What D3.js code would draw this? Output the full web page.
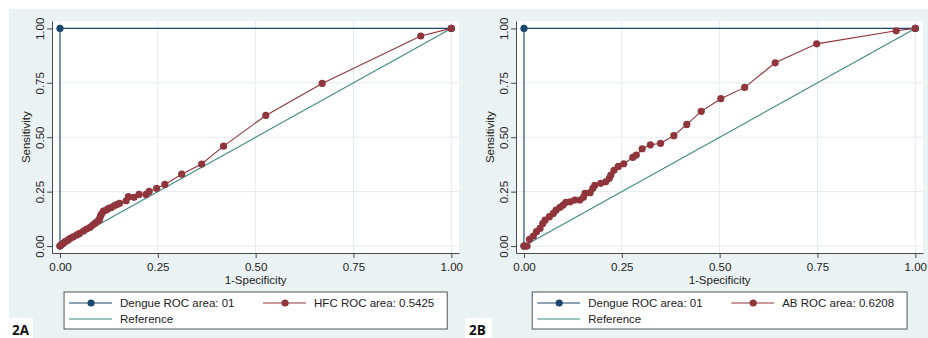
<!DOCTYPE html>
<html><head><meta charset="utf-8">
<script src="https://cdn.jsdelivr.net/npm/d3@7"></script>
<style>
html,body{margin:0;padding:0;background:#fff;}
svg{display:block;font-family:"Liberation Sans",Arial,sans-serif;}
</style></head>
<body><svg id="c" width="928" height="338"></svg>
<script>
// ---------- data ----------
const axisTicks = [0, 0.25, 0.5, 0.75, 1];
const axisTickLabels = ["0.00", "0.25", "0.50", "0.75", "1.00"];
const xTitle = "1-Specificity";
const yTitle = "Sensitivity";

const dengueFpr = [0, 0, 1];
const dengueTpr = [0, 1, 1];
const dengueLabel = "Dengue ROC area: 01";
const referenceLabel = "Reference";

const hfcFpr = [0, 0.003, 0.008, 0.013, 0.02, 0.026, 0.034, 0.043, 0.05, 0.06, 0.068, 0.077, 0.083, 0.089, 0.095, 0.1, 0.102, 0.104, 0.106, 0.111, 0.118, 0.124, 0.131, 0.138, 0.145, 0.152, 0.169, 0.175, 0.189, 0.202, 0.22, 0.228, 0.247, 0.268, 0.311, 0.362, 0.418, 0.526, 0.67, 0.922, 1];
const hfcTpr = [0, 0.006, 0.012, 0.02, 0.027, 0.035, 0.042, 0.051, 0.058, 0.069, 0.078, 0.086, 0.095, 0.104, 0.112, 0.119, 0.13, 0.14, 0.147, 0.16, 0.165, 0.173, 0.177, 0.185, 0.19, 0.196, 0.208, 0.227, 0.224, 0.237, 0.237, 0.251, 0.265, 0.283, 0.33, 0.377, 0.459, 0.6, 0.747, 0.965, 1];
const hfcLabel = "HFC ROC area: 0.5425";

const abFpr = [0, 0.004, 0.008, 0.014, 0.024, 0.032, 0.041, 0.048, 0.054, 0.065, 0.075, 0.082, 0.092, 0.1, 0.107, 0.118, 0.13, 0.143, 0.152, 0.156, 0.169, 0.176, 0.181, 0.196, 0.209, 0.218, 0.222, 0.23, 0.241, 0.255, 0.278, 0.287, 0.302, 0.323, 0.349, 0.383, 0.416, 0.453, 0.503, 0.564, 0.642, 0.748, 0.951, 1];
const abTpr = [0, 0, 0, 0.031, 0.046, 0.066, 0.081, 0.104, 0.119, 0.135, 0.15, 0.165, 0.178, 0.188, 0.201, 0.203, 0.211, 0.211, 0.224, 0.242, 0.245, 0.265, 0.279, 0.288, 0.295, 0.311, 0.326, 0.348, 0.366, 0.378, 0.407, 0.418, 0.447, 0.465, 0.472, 0.507, 0.559, 0.619, 0.677, 0.729, 0.842, 0.929, 0.989, 1];
const abLabel = "AB ROC area: 0.6208";

const panelTags = ["2A", "2B"];

// ---------- style ----------
const C = {
  bg: "#eaf2f3", grid: "#e3ebee", navy: "#1a476f", maroon: "#90353b",
  ref: "#3b8a80", axis: "#4a4a4a", text: "#222"
};

const svg = d3.select("#c");

function panel(ox, tag, fpr, tpr, label) {
  const g = svg.append("g").attr("transform", `translate(${ox},0)`);
  // background
  g.append("rect").attr("x", tag === "2A" ? 9 : 0).attr("y", 9)
    .attr("width", tag === "2A" ? 461 : 464).attr("height", 329).attr("fill", C.bg);

  const x = d3.scaleLinear().domain([-0.0204, 1.0197]).range([52, 459]);
  const y = d3.scaleLinear().domain([-0.032, 1.034]).range([253, 21]);

  g.append("rect").attr("x", x.range()[0]).attr("y", y.range()[1])
    .attr("width", x.range()[1] - x.range()[0]).attr("height", y.range()[0] - y.range()[1])
    .attr("fill", "#fff");

  // gridlines
  g.append("g").selectAll("line.v").data(axisTicks).join("line")
    .attr("x1", d => x(d)).attr("x2", d => x(d)).attr("y1", y.range()[1]).attr("y2", y.range()[0])
    .attr("stroke", C.grid).attr("stroke-width", 1);
  g.append("g").selectAll("line.h").data(axisTicks).join("line")
    .attr("y1", d => y(d)).attr("y2", d => y(d)).attr("x1", x.range()[0]).attr("x2", x.range()[1])
    .attr("stroke", C.grid).attr("stroke-width", 1);

  // axes
  const xa = g.append("g").attr("transform", `translate(0,${y.range()[0]})`)
    .call(d3.axisBottom(x).tickValues(axisTicks).tickFormat((d, i) => axisTickLabels[i]).tickSizeOuter(0).tickSizeInner(5));
  xa.select(".domain").attr("stroke", C.axis);
  xa.selectAll(".tick line").attr("stroke", C.axis);
  xa.selectAll("text").attr("y", 18).attr("dy", 0).attr("fill", C.text)
    .style("font-size", "11.5px").style("font-family", '"Liberation Sans",Arial,sans-serif');

  const ya = g.append("g").attr("transform", `translate(${x.range()[0]},0)`)
    .call(d3.axisLeft(y).tickValues(axisTicks).tickFormat((d, i) => axisTickLabels[i]).tickSizeOuter(0).tickSizeInner(5));
  ya.select(".domain").attr("stroke", C.axis);
  ya.selectAll(".tick line").attr("stroke", C.axis);
  ya.selectAll("text").attr("x", 0).attr("dy", 0).attr("text-anchor", "middle")
    .attr("transform", "translate(-8.5,0) rotate(-90)").attr("fill", C.text)
    .style("font-size", "11.5px").style("font-family", '"Liberation Sans",Arial,sans-serif');

  g.append("text").attr("x", (x(0) + x(1)) / 2).attr("y", 283.5).attr("text-anchor", "middle")
    .attr("fill", C.text).style("font-size", "11.5px").text(xTitle);
  g.append("text").attr("transform", `translate(30,${(y(0) + y(1)) / 2}) rotate(-90)`)
    .attr("text-anchor", "middle").attr("fill", C.text).style("font-size", "11.5px").text(yTitle);

  const line = d3.line().x(d => x(d[0])).y(d => y(d[1]));
  const dengue = dengueFpr.map((v, i) => [v, dengueTpr[i]]);
  const roc = fpr.map((v, i) => [v, tpr[i]]);

  // reference
  g.append("path").datum([[0, 0], [1, 1]]).attr("d", line)
    .attr("fill", "none").attr("stroke", C.ref).attr("stroke-width", 1.1);
  // dengue
  g.append("path").datum(dengue).attr("d", line)
    .attr("fill", "none").attr("stroke", C.navy).attr("stroke-width", 1.1);
  g.append("g").selectAll("circle").data(dengue).join("circle")
    .attr("cx", d => x(d[0])).attr("cy", d => y(d[1])).attr("r", 3.6).attr("fill", C.navy);
  // roc
  g.append("path").datum(roc).attr("d", line)
    .attr("fill", "none").attr("stroke", C.maroon).attr("stroke-width", 1.1);
  g.append("g").selectAll("circle").data(roc).join("circle")
    .attr("cx", d => x(d[0])).attr("cy", d => y(d[1])).attr("r", 3.6).attr("fill", C.maroon);

  // legend
  const lg = g.append("g");
  const box = lg.append("rect").attr("y", 292).attr("height", 37)
    .attr("fill", "#fff").attr("stroke", "#555").attr("stroke-width", 1);
  const items = [
    { col: 0, row: 0, color: C.navy, marker: true, text: dengueLabel },
    { col: 1, row: 0, color: C.maroon, marker: true, text: label },
    { col: 0, row: 1, color: C.ref, marker: false, text: referenceLabel }
  ];
  const colX = [0, 194];
  const rowY = [303, 319];
  let maxRight = 0;
  const it = lg.selectAll("g.item").data(items).join("g")
    .attr("transform", d => `translate(${colX[d.col]},${rowY[d.row]})`);
  it.append("line").attr("x1", 5).attr("x2", 48).attr("stroke", d => d.color).attr("stroke-width", 1.1);
  it.filter(d => d.marker).append("circle").attr("cx", 27).attr("r", 3.6).attr("fill", d => d.color);
  it.append("text").attr("x", 56).attr("y", 4.2).attr("fill", C.text).style("font-size", "11.5px")
    .text(d => d.text)
    .each(function (d) { maxRight = Math.max(maxRight, colX[d.col] + 56 + this.getComputedTextLength()); });
  const w = maxRight + 13;
  const cx = (x(0) + x(1)) / 2;
  const left = cx - w / 2;
  lg.attr("transform", `translate(${left},0)`);
  box.attr("x", 0).attr("width", w);

  // panel tag
  const tagX = tag === "2A" ? 0 : 1;
  g.append("rect").attr("x", tagX).attr("y", 318).attr("width", tag === "2A" ? 33 : 27).attr("height", 20).attr("fill", "#fff");
  g.append("text").attr("x", tag === "2A" ? 12 : 5).attr("y", 334.5).attr("fill", "#111")
    .style("font-family", '"Open Sans","Noto Sans",sans-serif').style("font-weight", "bold").style("font-size", "13.5px")
    .text(tag);
}

panel(0, panelTags[0], hfcFpr, hfcTpr, hfcLabel);
panel(464, panelTags[1], abFpr, abTpr, abLabel);
</script></body></html>
